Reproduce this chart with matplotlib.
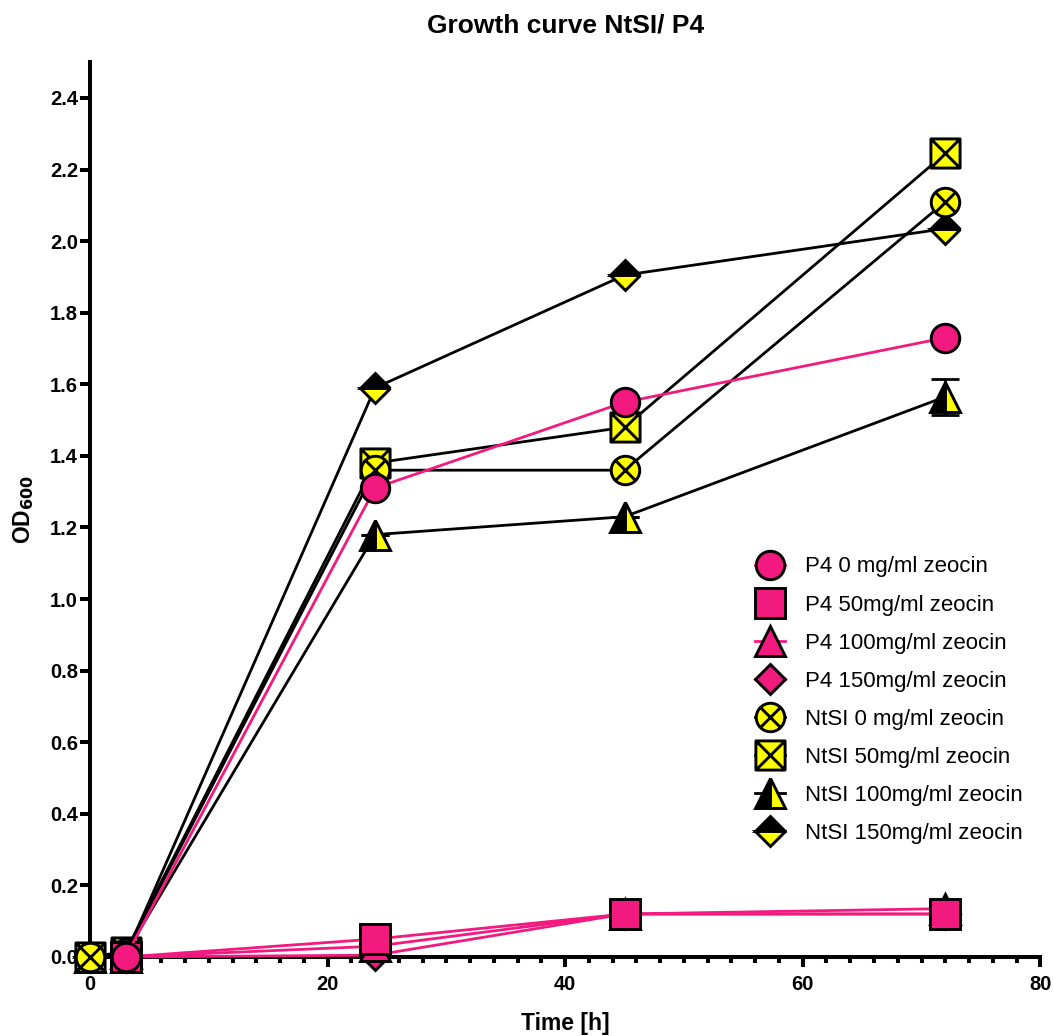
import numpy as np
import matplotlib
matplotlib.use("Agg")
from matplotlib import pyplot as plt
from matplotlib.path import Path

plt.rcParams['font.family'] = ['Liberation Sans', 'DejaVu Sans']

# time points [h]
time_p4 = [3, 24, 45, 72]
time_ntsi = [0, 3, 24, 45, 72]

# OD600 values
p4_0 = [0.0, 1.31, 1.55, 1.73]
p4_50 = [0.0, 0.05, 0.12, 0.12]
p4_100 = [0.0, 0.03, 0.12, 0.135]
p4_150 = [0.0, 0.005, 0.12, 0.12]

ntsi_0 = [0.0, 0.01, 1.36, 1.36, 2.11]
ntsi_50 = [0.0, 0.015, 1.38, 1.48, 2.245]
ntsi_100 = [0.0, 0.01, 1.18, 1.23, 1.565]
ntsi_150 = [0.0, 0.005, 1.59, 1.905, 2.035]
ntsi_100_err = [0.0, 0.0, 0.0, 0.0, 0.05]

labels = ["P4 0 mg/ml zeocin", "P4 50mg/ml zeocin", "P4 100mg/ml zeocin",
          "P4 150mg/ml zeocin", "NtSI 0 mg/ml zeocin", "NtSI 50mg/ml zeocin",
          "NtSI 100mg/ml zeocin", "NtSI 150mg/ml zeocin"]

PINK = '#F2197F'
YELLOW = '#FFFF00'


def crossed(shape):
    # filled outline with an X drawn inside
    if shape == 'circle':
        c = Path.unit_circle()
        verts = [tuple(v) for v in c.vertices]
        codes = list(c.codes)
        d = 0.7071
    else:
        verts = [(-1, -1), (1, -1), (1, 1), (-1, 1), (-1, -1)]
        codes = [Path.MOVETO, Path.LINETO, Path.LINETO, Path.LINETO, Path.CLOSEPOLY]
        d = 1.0
    verts += [(-d, -d), (d, d), (-d, d), (d, -d)]
    codes += [Path.MOVETO, Path.LINETO, Path.MOVETO, Path.LINETO]
    return Path(verts, codes)


fig = plt.figure(figsize=(10.54, 10.36), dpi=100)
ax = fig.add_axes([0.0854, 0.0763, 0.9016, 0.8637])

lw = 2.0
mew = 2.1
series = [
    (time_p4, p4_0, dict(marker='o', ms=20.5, mfc=PINK, color=PINK)),
    (time_p4, p4_50, dict(marker='s', ms=21, mfc=PINK, color=PINK)),
    (time_p4, p4_100, dict(marker='^', ms=21, mfc=PINK, color=PINK)),
    (time_p4, p4_150, dict(marker='D', ms=15, mfc=PINK, color=PINK)),
    (time_ntsi, ntsi_0, dict(marker=crossed('circle'), ms=20.5, mfc=YELLOW, color='black')),
    (time_ntsi, ntsi_50, dict(marker=crossed('square'), ms=21, mfc=YELLOW, color='black')),
    (time_ntsi, ntsi_100, dict(marker='^', ms=21, mfc='black', mfcalt=YELLOW,
                               fillstyle='left', color='black')),
    (time_ntsi, ntsi_150, dict(marker='D', ms=15, mfc='black', mfcalt=YELLOW,
                               fillstyle='top', color='black')),
]

handles = []
for i, (t, y, st) in enumerate(series):
    (h,) = ax.plot(t, y, lw=lw, mec='black', mew=mew, clip_on=False,
                   zorder=20 - i, **st)
    handles.append(h)

ax.errorbar(time_ntsi, ntsi_100, yerr=ntsi_100_err, fmt='none', ecolor='black',
            elinewidth=2.0, capsize=10, capthick=2.0, zorder=5, clip_on=False)

ax.set_xlim(0, 80)
ax.set_ylim(0, 2.5)
ax.set_xticks([0, 20, 40, 60, 80])
ax.set_xticks(np.arange(0, 81, 2), minor=True)
ax.set_yticks(np.arange(0, 2.41, 0.2))
ax.set_yticklabels([f"{v:.1f}" for v in np.arange(0, 2.41, 0.2)])

for s in ['top', 'right']:
    ax.spines[s].set_visible(False)
for s in ['left', 'bottom']:
    ax.spines[s].set_linewidth(2.9)

ax.tick_params(axis='both', which='major', length=7.2, width=2.9, labelsize=14.5)
ax.tick_params(axis='y', which='major', pad=1.5)
ax.tick_params(axis='x', which='major', pad=6)
ax.tick_params(axis='x', which='minor', length=4.5, width=2.9)
for lab in ax.get_xticklabels() + ax.get_yticklabels():
    lab.set_fontweight('bold')

ax.set_xlabel("Time [h]", fontsize=16.5, fontweight='bold', labelpad=13)
ax.set_ylabel("OD$_{\\mathbf{600}}$", fontsize=16.5, fontweight='bold', labelpad=10)
ax.set_title("Growth curve NtSI/ P4", fontsize=19, fontweight='bold', pad=21)

ax.legend(handles, labels, loc='upper left', bbox_to_anchor=(0.679, 0.47),
          frameon=False, fontsize=16, handlelength=1.35, labelspacing=0.77,
          handletextpad=0.9, numpoints=1)

fig.savefig("out.png", dpi=100)
